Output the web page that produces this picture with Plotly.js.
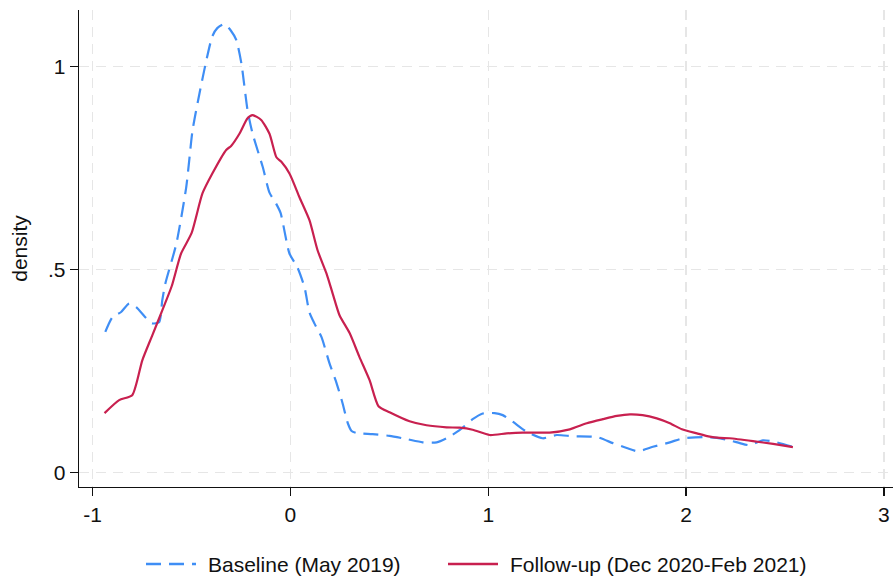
<!DOCTYPE html>
<html>
<head>
<meta charset="utf-8">
<script src="https://cdn.plot.ly/plotly-3.0.1.min.js"></script>
<style>html,body{margin:0;padding:0;background:#fff;}#chart{width:893px;height:579px;}</style>
</head>
<body>
<div id="chart"></div>
<script>
// Baseline (May 2019) kernel density
const baselineX = [-0.936,-0.90,-0.856,-0.815,-0.78,-0.73,-0.70,-0.664,-0.648,-0.633,-0.577,-0.527,-0.495,-0.46,-0.425,-0.395,-0.37,-0.334,-0.30,-0.274,-0.248,-0.217,-0.192,-0.14,-0.106,-0.075,-0.05,-0.005,0.035,0.071,0.096,0.121,0.157,0.197,0.233,0.263,0.29,0.309,0.334,0.415,0.501,0.587,0.668,0.739,0.789,0.855,0.921,0.972,1.032,1.073,1.123,1.194,1.275,1.346,1.427,1.549,1.63,1.70,1.756,1.832,1.918,1.984,2.085,2.156,2.22,2.272,2.32,2.388,2.45,2.54];
const baselineY = [0.347,0.383,0.396,0.417,0.408,0.381,0.368,0.371,0.425,0.465,0.564,0.703,0.843,0.934,1.016,1.075,1.095,1.105,1.088,1.066,1.008,0.893,0.836,0.753,0.69,0.665,0.64,0.54,0.506,0.457,0.395,0.368,0.334,0.270,0.221,0.172,0.122,0.103,0.098,0.095,0.091,0.083,0.075,0.075,0.085,0.105,0.132,0.146,0.147,0.142,0.126,0.101,0.085,0.093,0.090,0.088,0.073,0.061,0.053,0.064,0.075,0.085,0.088,0.086,0.080,0.073,0.068,0.080,0.076,0.064];
// Follow-up (Dec 2020-Feb 2021) kernel density
const followX = [-0.94,-0.866,-0.80,-0.749,-0.698,-0.648,-0.60,-0.553,-0.50,-0.445,-0.395,-0.325,-0.30,-0.258,-0.217,-0.192,-0.148,-0.106,-0.071,-0.046,-0.005,0.046,0.096,0.137,0.182,0.213,0.248,0.299,0.349,0.40,0.445,0.501,0.602,0.688,0.789,0.855,0.921,1.007,1.093,1.174,1.26,1.31,1.412,1.498,1.579,1.65,1.716,1.78,1.852,1.918,1.979,2.055,2.12,2.171,2.22,2.338,2.44,2.54];
const followY = [0.147,0.179,0.191,0.277,0.339,0.40,0.46,0.54,0.59,0.688,0.737,0.795,0.805,0.835,0.873,0.881,0.869,0.835,0.777,0.766,0.737,0.678,0.622,0.548,0.491,0.442,0.388,0.344,0.285,0.228,0.164,0.149,0.127,0.117,0.112,0.111,0.106,0.093,0.097,0.099,0.099,0.099,0.107,0.122,0.132,0.140,0.144,0.142,0.134,0.122,0.107,0.097,0.089,0.086,0.085,0.078,0.071,0.063];
const seriesNames = ["Baseline (May 2019)", "Follow-up (Dec 2020-Feb 2021)"];
const seriesColors = ['#3f8ef5', '#c8204f'];
const xTickVals = [-1, 0, 1, 2, 3];
const xTickText = ["-1", "0", "1", "2", "3"];
const yTickVals = [0, 0.5, 1];
const yTickText = ["0", ".5", "1"];

const FONT = '"Liberation Sans", Arial, Helvetica, sans-serif';
const BLUE_DASH = '15px,8px';
const traces = [
  {x: baselineX, y: baselineY, name: seriesNames[0], type: 'scatter', mode: 'lines',
   line: {color: seriesColors[0], width: 2.2, dash: BLUE_DASH, shape: 'spline', smoothing: 0.6}},
  {x: followX, y: followY, name: seriesNames[1], type: 'scatter', mode: 'lines',
   line: {color: seriesColors[1], width: 2.2, shape: 'spline', smoothing: 0.6}}
];
const axisCommon = {
  showline: true, linecolor: '#111', linewidth: 1.3,
  ticks: 'outside', ticklen: 8, tickwidth: 1.3, tickcolor: '#111',
  showgrid: true, gridcolor: '#e6e6e6', gridwidth: 1.3, griddash: '10px,7px',
  zeroline: false, tickfont: {family: FONT, size: 21, color: '#111'}
};
// Legend drawn at the bottom (positions in paper coordinates of the plot area)
const PL = 79, PW = 814, PB = 487, PH = 477;
const px = v => (v - PL) / PW;
const py = v => (PB - v) / PH;
const legendY = 564;
const legendItems = [
  {x0: 146, x1: 196, tx: 206},
  {x0: 448, x1: 498, tx: 508}
];
const shapes = legendItems.map((it, i) => ({
  type: 'line', xref: 'paper', yref: 'paper',
  x0: px(it.x0), x1: px(it.x1), y0: py(legendY), y1: py(legendY),
  line: {color: seriesColors[i], width: 2.4, dash: i === 0 ? BLUE_DASH : 'solid'}
}));
const annotations = legendItems.map((it, i) => ({
  xref: 'paper', yref: 'paper', x: px(it.tx), y: py(legendY),
  xanchor: 'left', yanchor: 'middle', showarrow: false, text: seriesNames[i],
  font: {family: FONT, size: 21, color: '#111'}
}));
const layout = {
  width: 893, height: 579,
  margin: {l: 79, r: 0, t: 10, b: 92, autoexpand: false},
  paper_bgcolor: '#fff', plot_bgcolor: '#fff',
  font: {family: FONT, size: 21, color: '#111'},
  xaxis: Object.assign({}, axisCommon, {range: [-1.069, 3.046], tickmode: 'array', tickvals: xTickVals, ticktext: xTickText}),
  yaxis: Object.assign({}, axisCommon, {range: [-0.035, 1.1397], tickmode: 'array', tickvals: yTickVals, ticktext: yTickText,
    title: {text: 'density', font: {family: FONT, size: 21, color: '#111'}, standoff: 14}}),
  showlegend: false,
  shapes: shapes,
  annotations: annotations
};
Plotly.newPlot('chart', traces, layout, {staticPlot: true, displayModeBar: false});
</script>
</body>
</html>
